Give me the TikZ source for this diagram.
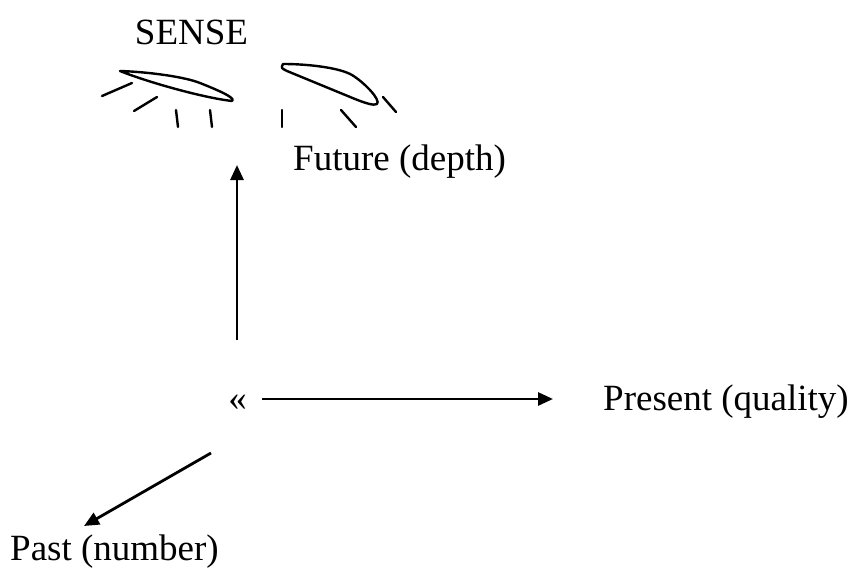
\documentclass[tikz,border=0pt]{standalone}
\usepackage{fontspec}
\setmainfont{Liberation Serif}
\usetikzlibrary{arrows.meta}
\begin{document}
\begin{tikzpicture}[x=1pt,y=-1pt,
  lbl/.style={inner sep=0pt,font=\fontsize{37}{44}\selectfont},
  axis/.style={line width=2.8pt,-{Triangle[length=15pt,width=13pt]}},
  stroke/.style={line width=2.4pt,line cap=round,line join=round}]
\useasboundingbox (0,0) rectangle (854,578);

% labels
\node[lbl,anchor=base] (sense) at (191.5,45) {SENSE};
\node[lbl,anchor=base west] (future) at (293,170) {Future (depth)};
\node[lbl,anchor=base] (origin) at (237.5,410) {«};
\node[lbl,anchor=base west] (present) at (603,410) {Present (quality)};
\node[lbl,anchor=base west] (past) at (10,560) {Past (number)};

% arrow end points
\coordinate (upstart) at (237,340);
\coordinate (uptip) at (237,165);
\coordinate (rstart) at (262,399);
\coordinate (rtip) at (553,399);
\coordinate (dstart) at (211,453);
\coordinate (dtip) at (84,526);

\draw[axis] (upstart) -- (uptip);
\draw[axis] (rstart) -- (rtip);
\draw[axis] (dstart) -- (dtip);

% left eye and lashes
\draw[stroke] (120,71) .. controls (150,72) and (185,77) .. (200,83)
  .. controls (215,89) and (237,98) .. (232,101)
  .. controls (205,98) and (150,83) .. cycle;
\draw[stroke] (102,96) -- (132,83);
\draw[stroke] (134,111) -- (157,97);
\draw[stroke] (176,110) -- (178,127);
\draw[stroke] (210,110) -- (212,127);

% right eye and lashes
\draw[stroke] (283,64) .. controls (310,64) and (340,68) .. (352,75)
  .. controls (365,83) and (381,100) .. (377,104)
  .. controls (374,106) and (365,103) .. (355,99)
  -- (287,71) .. controls (281,68) .. cycle;
\draw[stroke] (282,110) -- (282,127);
\draw[stroke] (341,110) -- (356,127);
\draw[stroke] (383,97) -- (396,112);
\end{tikzpicture}
\end{document}
